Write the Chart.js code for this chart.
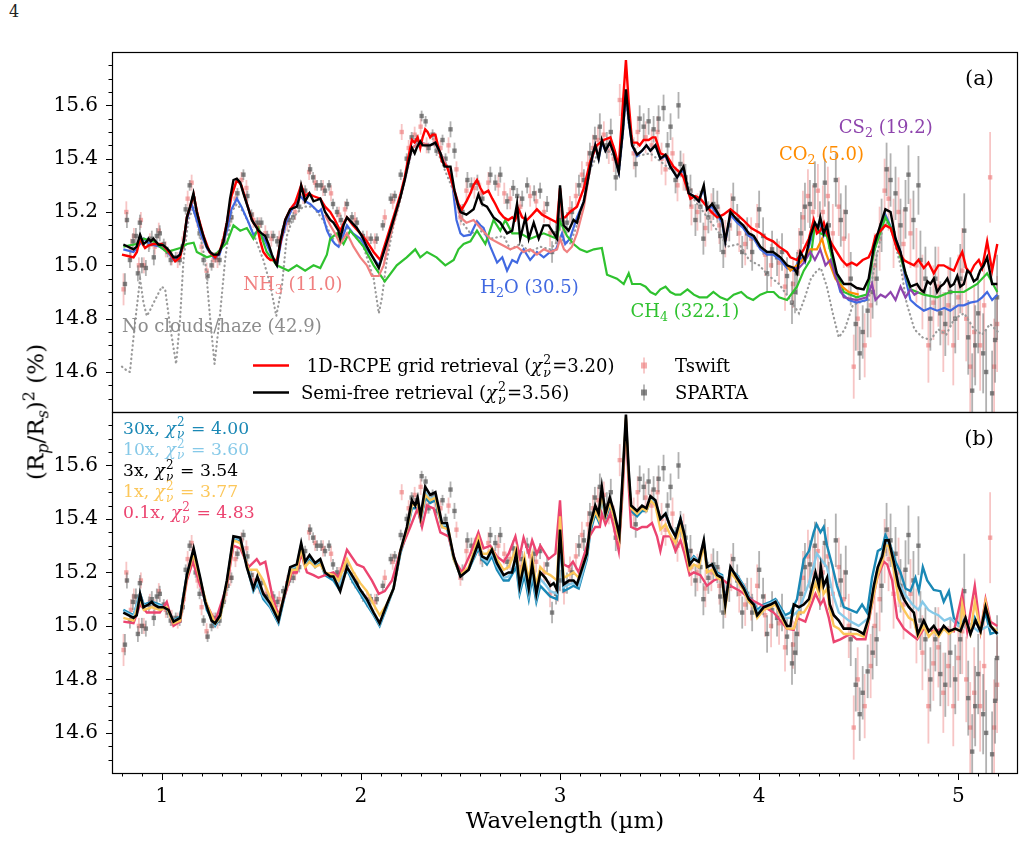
<!DOCTYPE html>
<html>
<head>
<meta charset="utf-8">
<script src="https://cdn.jsdelivr.net/npm/chart.js@4.4.1/dist/chart.umd.min.js"></script>
<style>
  body { margin: 0; background: #fff; width: 1025px; height: 843px; position: relative; overflow: hidden; font-family: 'DejaVu Serif', serif; }
  canvas { position: absolute; left: 0; top: 0; }
  #pagenum { position: absolute; left: 9px; top: 2px; font-size: 16px; color: #222; }
  #ytitle { position: absolute; left: 36px; top: 412px; transform: translate(-50%, -50%) rotate(-90deg); white-space: nowrap; font-size: 23px; color: #000; }
  #ytitle sub, #ytitle sup { font-size: 16px; }
</style>
</head>
<body>
<div id="pagenum">4</div>
<canvas id="panelA" width="1025" height="843"></canvas>
<canvas id="panelB" width="1025" height="843"></canvas>
<div id="ytitle">(R<sub><i>p</i></sub>/R<sub><i>s</i></sub>)<sup>2</sup> (%)</div>
<script>
// axis limits and tick lists
const X_MIN = 0.75, X_MAX = 5.30;
const Y_MIN = 14.45, Y_MAX = 15.80;
const xMajorTicks = [1, 2, 3, 4, 5];
const xMinorTicks = [0.8, 0.9, 1.1, 1.2, 1.3, 1.4, 1.5, 1.6, 1.7, 1.8, 1.9, 2.1, 2.2, 2.3, 2.4, 2.5, 2.6, 2.7, 2.8, 2.9,
  3.1, 3.2, 3.3, 3.4, 3.5, 3.6, 3.7, 3.8, 3.9, 4.1, 4.2, 4.3, 4.4, 4.5, 4.6, 4.7, 4.8, 4.9, 5.1, 5.2];
const yMajorTicks = [14.6, 14.8, 15.0, 15.2, 15.4, 15.6];
const yMinorTicks = [14.5, 14.55, 14.65, 14.7, 14.75, 14.85, 14.9, 14.95, 15.05, 15.1, 15.15, 15.25, 15.3, 15.35,
  15.45, 15.5, 15.55, 15.65, 15.7, 15.75];

// observations: [wavelength, depth, error]
const tswift = [
  [0.808,14.91,0.06],[0.822,15.20,0.04],[0.845,15.06,0.04],[0.86,15.11,0.03],[0.885,15.00,0.03],[0.895,15.17,0.03],
  [0.91,15.00,0.03],[0.94,15.09,0.03],[0.965,15.07,0.03],[0.985,15.13,0.03],[1.02,15.06,0.03],[1.05,15.03,0.03],
  [1.08,15.02,0.03],[1.11,15.10,0.03],[1.13,15.25,0.03],[1.15,15.31,0.03],[1.18,15.17,0.03],[1.20,15.07,0.03],
  [1.225,14.98,0.03],[1.26,15.02,0.03],[1.28,15.02,0.03],[1.32,15.12,0.03],[1.345,15.18,0.03],[1.37,15.25,0.03],
  [1.40,15.32,0.03],[1.425,15.29,0.03],[1.46,15.17,0.03],[1.49,15.15,0.03],[1.52,15.12,0.03],[1.55,15.10,0.03],
  [1.59,15.10,0.03],[1.63,15.16,0.03],[1.67,15.20,0.03],[1.71,15.26,0.03],[1.74,15.35,0.03],[1.77,15.31,0.03],
  [1.81,15.29,0.03],[1.85,15.27,0.03],[1.89,15.19,0.03],[1.92,15.21,0.03],[1.97,15.17,0.03],[2.03,15.10,0.03],
  [2.07,15.09,0.03],[2.12,15.18,0.03],[2.16,15.24,0.03],[2.205,15.50,0.03],[2.24,15.44,0.03],[2.27,15.49,0.03],
  [2.30,15.52,0.03],[2.33,15.45,0.03],[2.37,15.47,0.03],[2.40,15.44,0.03],[2.44,15.45,0.03],[2.48,15.36,0.03],
  [2.50,15.18,0.03],[2.53,15.28,0.04],[2.57,15.29,0.04],[2.60,15.27,0.04],[2.64,15.31,0.04],[2.69,15.30,0.04],
  [2.72,15.27,0.04],[2.75,15.25,0.04],[2.80,15.22,0.04],[2.85,15.26,0.04],[2.88,15.24,0.04],[2.92,15.20,0.04],
  [2.95,15.12,0.05],[2.99,15.14,0.05],[3.02,15.13,0.05],[3.05,15.21,0.05],[3.08,15.26,0.05],[3.11,15.34,0.05],
  [3.14,15.38,0.05],[3.165,15.44,0.05],[3.19,15.47,0.05],[3.22,15.49,0.05],[3.245,15.43,0.05],[3.27,15.40,0.05],
  [3.30,15.62,0.06],[3.37,15.42,0.06],[3.39,15.50,0.06],[3.43,15.48,0.06],[3.46,15.45,0.06],[3.49,15.50,0.06],
  [3.51,15.40,0.06],[3.53,15.36,0.06],[3.565,15.42,0.06],[3.59,15.30,0.06],[3.62,15.35,0.07],[3.66,15.22,0.07],
  [3.69,15.20,0.07],[3.73,15.14,0.07],[3.76,15.20,0.07],[3.80,15.15,0.07],[3.83,15.10,0.07],[3.86,15.20,0.07],
  [3.90,15.12,0.07],[3.93,15.08,0.08],[3.96,15.10,0.08],[3.99,15.15,0.08],[4.03,15.04,0.08],[4.06,15.00,0.08],
  [4.10,15.01,0.08],[4.13,14.92,0.09],[4.17,14.93,0.09],[4.20,15.05,0.09],[4.22,15.18,0.10],[4.245,15.26,0.10],
  [4.27,15.20,0.10],[4.295,15.28,0.10],[4.32,15.20,0.10],[4.345,15.26,0.11],[4.37,15.12,0.11],[4.40,15.22,0.11],
  [4.425,15.10,0.11],[4.45,15.00,0.12],[4.475,14.62,0.12],[4.495,14.80,0.12],[4.53,14.70,0.12],[4.56,14.85,0.12],
  [4.58,15.00,0.12],[4.605,15.10,0.12],[4.63,15.28,0.12],[4.65,15.25,0.12],[4.675,15.12,0.13],[4.70,15.20,0.13],
  [4.725,15.08,0.13],[4.76,15.12,0.13],[4.79,15.00,0.14],[4.82,14.90,0.14],[4.85,14.70,0.14],[4.875,14.86,0.14],
  [4.90,14.92,0.15],[4.925,14.75,0.15],[4.95,14.85,0.15],[4.975,14.70,0.15],[5.00,14.88,0.16],[5.02,14.98,0.16],
  [5.04,14.80,0.16],[5.06,14.62,0.17],[5.08,14.75,0.17],[5.11,14.70,0.17],[5.13,14.85,0.17],[5.16,15.33,0.17],
  [5.18,14.62,0.18],[5.195,14.78,0.18]
];
const sparta = [
  [0.815,14.93,0.04],[0.825,15.17,0.03],[0.84,15.02,0.03],[0.855,15.09,0.03],[0.87,15.11,0.03],[0.88,14.97,0.03],
  [0.89,15.16,0.03],[0.90,15.00,0.03],[0.92,14.99,0.03],[0.935,15.08,0.03],[0.95,15.10,0.03],[0.96,15.03,0.03],
  [0.975,15.11,0.03],[0.99,15.12,0.03],[1.01,15.08,0.02],[1.03,15.05,0.02],[1.045,15.02,0.02],[1.07,15.03,0.02],
  [1.09,15.02,0.02],[1.105,15.07,0.02],[1.12,15.21,0.02],[1.14,15.30,0.02],[1.16,15.25,0.02],[1.17,15.20,0.02],
  [1.19,15.12,0.02],[1.21,15.02,0.02],[1.23,14.96,0.02],[1.25,15.00,0.02],[1.27,15.03,0.02],[1.29,15.02,0.02],
  [1.31,15.09,0.02],[1.33,15.15,0.02],[1.35,15.18,0.02],[1.38,15.27,0.02],[1.41,15.34,0.02],[1.43,15.26,0.02],
  [1.45,15.19,0.02],[1.48,15.16,0.02],[1.50,15.16,0.02],[1.53,15.11,0.02],[1.56,15.11,0.02],[1.58,15.09,0.02],
  [1.61,15.13,0.02],[1.64,15.17,0.02],[1.66,15.18,0.02],[1.69,15.22,0.02],[1.72,15.28,0.02],[1.745,15.36,0.02],
  [1.76,15.33,0.02],[1.78,15.30,0.02],[1.80,15.30,0.02],[1.82,15.28,0.02],[1.84,15.30,0.02],[1.86,15.23,0.02],
  [1.88,15.20,0.02],[1.90,15.17,0.02],[1.93,15.23,0.02],[1.955,15.18,0.02],[1.98,15.16,0.02],[2.01,15.11,0.02],
  [2.05,15.10,0.02],[2.08,15.10,0.02],[2.11,15.15,0.02],[2.15,15.25,0.02],[2.17,15.26,0.02],[2.20,15.34,0.02],
  [2.23,15.40,0.02],[2.255,15.48,0.02],[2.28,15.47,0.02],[2.305,15.56,0.02],[2.325,15.54,0.02],[2.34,15.44,0.02],
  [2.36,15.49,0.02],[2.38,15.43,0.02],[2.41,15.47,0.02],[2.425,15.40,0.02],[2.45,15.51,0.03],[2.47,15.43,0.03],
  [2.51,15.20,0.03],[2.535,15.32,0.03],[2.555,15.30,0.03],[2.585,15.31,0.03],[2.61,15.25,0.03],[2.65,15.34,0.03],
  [2.675,15.31,0.03],[2.70,15.34,0.03],[2.735,15.24,0.03],[2.765,15.29,0.03],[2.785,15.26,0.03],[2.81,15.25,0.03],
  [2.835,15.30,0.03],[2.87,15.27,0.03],[2.90,15.28,0.03],[2.935,15.23,0.03],[2.96,15.05,0.04],[2.98,15.12,0.04],
  [3.00,15.17,0.04],[3.035,15.16,0.04],[3.06,15.20,0.04],[3.095,15.30,0.04],[3.12,15.32,0.04],[3.15,15.42,0.04],
  [3.175,15.48,0.04],[3.20,15.52,0.05],[3.235,15.45,0.05],[3.255,15.50,0.05],[3.28,15.33,0.05],[3.38,15.38,0.05],
  [3.40,15.55,0.05],[3.42,15.52,0.05],[3.445,15.54,0.05],[3.47,15.51,0.05],[3.495,15.55,0.05],[3.52,15.59,0.05],
  [3.54,15.45,0.05],[3.555,15.52,0.05],[3.58,15.32,0.05],[3.595,15.60,0.05],[3.605,15.38,0.05],[3.63,15.33,0.05],
  [3.655,15.28,0.06],[3.68,15.17,0.06],[3.705,15.22,0.06],[3.72,15.10,0.06],[3.745,15.18,0.06],[3.77,15.23,0.06],
  [3.79,15.22,0.06],[3.805,15.11,0.06],[3.82,15.05,0.06],[3.85,15.15,0.06],[3.87,15.25,0.06],[3.89,15.17,0.06],
  [3.915,15.05,0.06],[3.94,15.12,0.06],[3.965,15.05,0.07],[4.00,15.21,0.07],[4.02,15.11,0.07],[4.04,14.97,0.07],
  [4.065,15.06,0.07],[4.09,15.03,0.07],[4.115,15.05,0.07],[4.14,14.96,0.07],[4.165,14.86,0.08],[4.18,14.90,0.08],
  [4.19,14.97,0.08],[4.21,15.12,0.08],[4.23,15.22,0.09],[4.255,15.23,0.09],[4.28,15.30,0.09],[4.305,15.15,0.09],
  [4.33,15.31,0.09],[4.35,15.15,0.09],[4.385,15.32,0.10],[4.41,15.17,0.10],[4.435,15.20,0.10],[4.46,14.95,0.10],
  [4.485,14.78,0.10],[4.505,14.67,0.10],[4.52,14.75,0.10],[4.545,14.83,0.10],[4.57,14.90,0.10],[4.59,14.95,0.10],
  [4.615,15.15,0.10],[4.64,15.36,0.10],[4.66,15.32,0.10],[4.685,15.27,0.10],[4.71,15.15,0.10],[4.735,15.21,0.11],
  [4.75,15.34,0.11],[4.775,15.17,0.11],[4.80,15.30,0.11],[4.81,15.02,0.11],[4.835,14.95,0.12],[4.86,14.80,0.12],
  [4.885,14.95,0.12],[4.91,14.82,0.12],[4.935,14.78,0.12],[4.96,14.90,0.13],[4.985,14.80,0.13],[5.01,14.95,0.13],
  [5.03,15.13,0.14],[5.05,14.73,0.14],[5.07,14.53,0.14],[5.085,14.70,0.15],[5.10,14.82,0.15],[5.125,14.67,0.15],
  [5.14,14.60,0.16],[5.17,14.52,0.16],[5.185,14.72,0.16],[5.195,14.88,0.16]
];

// panel (a) models: [wavelength, depth]
const rcpeGrid = [
  [0.80,15.04],[0.83,15.035],[0.858,15.03],[0.875,15.05],[0.89,15.10],[0.903,15.08],[0.916,15.065],[0.935,15.075],
  [0.958,15.08],[0.98,15.08],[1.0,15.08],[1.025,15.06],[1.045,15.04],[1.067,15.015],[1.092,15.03],[1.11,15.09],
  [1.126,15.18],[1.143,15.22],[1.16,15.265],[1.18,15.19],[1.21,15.11],[1.24,15.05],[1.268,15.03],[1.29,15.05],
  [1.31,15.10],[1.327,15.16],[1.35,15.26],[1.377,15.32],[1.40,15.30],[1.42,15.25],[1.444,15.19],[1.46,15.16],
  [1.48,15.14],[1.495,15.09],[1.51,15.05],[1.53,15.03],[1.546,15.02],[1.578,15.02],[1.60,15.10],[1.62,15.17],
  [1.645,15.21],[1.67,15.235],[1.70,15.30],[1.72,15.26],[1.737,15.27],[1.76,15.26],[1.796,15.25],[1.82,15.22],
  [1.846,15.20],[1.87,15.17],[1.896,15.13],[1.915,15.16],[1.93,15.18],[1.96,15.15],[1.997,15.12],[2.03,15.09],
  [2.064,15.05],[2.097,15.02],[2.113,15.06],[2.13,15.10],[2.155,15.16],[2.18,15.22],[2.20,15.27],[2.22,15.33],
  [2.24,15.41],[2.256,15.47],[2.27,15.46],[2.285,15.48],[2.298,15.44],[2.31,15.48],[2.323,15.51],[2.335,15.50],
  [2.348,15.48],[2.36,15.49],[2.374,15.49],[2.39,15.44],[2.407,15.39],[2.432,15.37],[2.45,15.33],[2.47,15.28],
  [2.49,15.23],[2.507,15.21],[2.53,15.24],[2.55,15.27],[2.565,15.30],[2.583,15.32],[2.60,15.29],[2.616,15.27],
  [2.64,15.28],[2.66,15.25],[2.675,15.23],[2.695,15.20],[2.717,15.18],[2.74,15.17],[2.76,15.18],[2.775,15.17],
  [2.792,15.21],[2.81,15.18],[2.834,15.17],[2.86,15.19],[2.884,15.21],[2.91,15.19],[2.935,15.18],[2.96,15.17],
  [2.985,15.16],[3.0,15.29],[3.012,15.18],[3.026,15.18],[3.05,15.20],[3.085,15.22],[3.12,15.29],[3.152,15.39],
  [3.185,15.45],[3.22,15.47],[3.253,15.48],[3.275,15.43],[3.295,15.37],[3.316,15.61],[3.331,15.77],[3.345,15.61],
  [3.362,15.46],[3.387,15.46],[3.40,15.45],[3.42,15.47],[3.445,15.47],[3.465,15.48],[3.479,15.48],[3.504,15.42],
  [3.537,15.41],[3.57,15.37],[3.60,15.35],[3.62,15.33],[3.655,15.25],[3.68,15.26],[3.705,15.25],[3.738,15.22],
  [3.76,15.20],[3.789,15.18],[3.82,15.19],[3.856,15.21],[3.89,15.19],[3.92,15.17],[3.96,15.14],[4.006,15.12],
  [4.04,15.10],[4.07,15.09],[4.10,15.07],[4.14,15.05],[4.157,15.03],[4.19,15.02],[4.224,15.06],[4.25,15.10],
  [4.274,15.17],[4.29,15.12],[4.307,15.13],[4.325,15.16],[4.34,15.12],[4.365,15.08],[4.39,15.05],[4.415,15.02],
  [4.44,15.0],[4.465,15.01],[4.49,15.0],[4.52,15.02],[4.55,15.03],[4.568,15.06],[4.584,15.11],[4.61,15.13],
  [4.634,15.15],[4.66,15.14],[4.693,15.06],[4.727,15.02],[4.75,15.01],[4.777,15.0],[4.80,15.02],[4.827,14.99],
  [4.85,15.01],[4.877,14.97],[4.90,15.0],[4.927,15.0],[4.95,14.99],[4.978,14.98],[5.0,15.02],[5.02,15.05],
  [5.04,14.99],[5.06,14.97],[5.08,15.0],[5.103,15.02],[5.12,14.99],[5.145,15.09],[5.17,14.98],[5.196,15.08]
];
const semiFree = [
  [0.807,15.078],[0.858,15.06],[0.874,15.07],[0.891,15.115],[0.908,15.08],[0.925,15.09],[0.933,15.10],[0.945,15.09],
  [0.958,15.10],[0.983,15.078],[1.008,15.075],[1.025,15.065],[1.042,15.05],[1.059,15.03],[1.075,15.03],[1.092,15.04],
  [1.11,15.09],[1.126,15.18],[1.142,15.22],[1.159,15.27],[1.176,15.20],[1.193,15.15],[1.209,15.11],[1.226,15.07],
  [1.243,15.05],[1.26,15.04],[1.285,15.04],[1.31,15.09],[1.327,15.16],[1.343,15.25],[1.36,15.32],[1.377,15.325],
  [1.394,15.31],[1.41,15.27],[1.436,15.21],[1.452,15.17],[1.469,15.15],[1.486,15.13],[1.502,15.12],[1.519,15.11],
  [1.536,15.08],[1.553,15.04],[1.57,15.01],[1.578,15.0],[1.595,15.09],[1.62,15.17],[1.645,15.21],[1.678,15.22],
  [1.69,15.25],[1.70,15.30],[1.72,15.24],[1.742,15.27],[1.762,15.24],[1.78,15.245],[1.796,15.25],[1.82,15.20],
  [1.846,15.17],[1.862,15.16],[1.887,15.13],[1.896,15.10],[1.913,15.15],[1.93,15.18],[1.955,15.16],[1.98,15.14],
  [2.005,15.11],[2.03,15.07],[2.06,15.03],[2.09,14.99],[2.115,15.05],[2.14,15.11],[2.16,15.16],[2.18,15.21],
  [2.20,15.26],[2.22,15.32],[2.24,15.39],[2.256,15.44],[2.27,15.42],[2.28,15.44],[2.298,15.465],[2.31,15.45],
  [2.323,15.45],[2.348,15.45],[2.374,15.46],[2.40,15.42],[2.42,15.37],[2.45,15.37],[2.47,15.28],[2.49,15.22],
  [2.50,15.20],[2.53,15.19],[2.566,15.21],[2.59,15.265],[2.608,15.23],[2.633,15.22],[2.666,15.18],[2.70,15.16],
  [2.734,15.12],[2.76,15.13],[2.784,15.23],[2.80,15.10],[2.826,15.18],[2.843,15.10],[2.868,15.16],[2.893,15.10],
  [2.918,15.15],[2.943,15.15],[2.968,15.12],[2.985,15.10],[3.0,15.30],[3.018,15.15],[3.043,15.13],[3.068,15.17],
  [3.085,15.16],[3.10,15.20],[3.12,15.24],[3.135,15.30],[3.152,15.37],[3.165,15.42],[3.177,15.45],[3.194,15.40],
  [3.21,15.47],[3.228,15.43],[3.25,15.46],[3.27,15.42],[3.295,15.35],[3.316,15.51],[3.331,15.66],[3.345,15.55],
  [3.362,15.45],[3.387,15.415],[3.412,15.43],[3.434,15.45],[3.454,15.43],[3.479,15.45],[3.504,15.40],[3.53,15.415],
  [3.554,15.37],[3.588,15.33],[3.62,15.37],[3.646,15.27],[3.67,15.26],[3.697,15.24],[3.722,15.30],[3.738,15.21],
  [3.764,15.23],[3.789,15.20],[3.814,15.17],[3.83,15.09],[3.856,15.20],[3.89,15.17],[3.92,15.15],[3.948,15.12],
  [3.973,15.11],[4.006,15.07],[4.04,15.05],[4.07,15.05],[4.107,15.03],[4.14,15.0],[4.174,14.99],[4.19,14.97],
  [4.207,15.05],[4.23,15.02],[4.257,15.11],[4.28,15.16],[4.295,15.14],[4.307,15.18],[4.324,15.12],[4.34,15.15],
  [4.366,15.05],[4.39,14.97],[4.425,14.93],[4.46,14.93],[4.49,14.915],[4.525,14.91],[4.55,14.95],[4.576,15.07],
  [4.60,15.13],[4.634,15.21],[4.66,15.20],[4.685,15.10],[4.71,15.05],[4.735,14.97],[4.76,14.92],[4.793,14.93],
  [4.81,14.91],[4.827,14.90],[4.845,14.94],[4.86,14.93],[4.877,14.95],[4.894,14.90],[4.91,14.92],[4.927,14.93],
  [4.945,14.95],[4.96,14.92],[4.978,14.93],[4.995,14.96],[5.01,14.92],[5.028,14.93],[5.045,14.98],[5.06,14.97],
  [5.078,14.94],[5.095,14.95],[5.11,14.98],[5.128,15.0],[5.145,15.03],[5.17,14.93],[5.196,14.93]
];
const withoutNH3 = [
  [1.82,15.19],[1.846,15.15],[1.87,15.12],[1.896,15.08],[1.93,15.12],[1.963,15.07],[1.997,15.03],[2.03,15.0],
  [2.055,14.96],[2.09,14.96],[2.114,15.0],[2.14,15.09],[2.18,15.2],[2.22,15.32],[2.256,15.44],[2.3,15.46],
  [2.35,15.45],[2.374,15.46],[2.4,15.42],[2.44,15.36],[2.47,15.27],[2.5,15.18],[2.53,15.16],[2.566,15.17],
  [2.6,15.14],[2.65,15.10],[2.7,15.08],[2.75,15.06],[2.784,15.07],[2.817,15.05],[2.85,15.06],[2.884,15.04],
  [2.918,15.06],[2.951,15.05],[2.985,15.06],[3.0,15.10],[3.02,15.06],[3.035,15.05],[3.06,15.07],[3.085,15.12],
  [3.12,15.22],[3.15,15.36]
];
const withoutH2O = [
  [0.807,15.06],[0.858,15.05],[0.89,15.08],[0.91,15.10],[0.94,15.08],[0.99,15.07],[1.03,15.05],[1.06,15.02],
  [1.09,15.04],[1.11,15.09],[1.126,15.17],[1.15,15.23],[1.175,15.17],[1.20,15.11],[1.23,15.06],[1.26,15.03],
  [1.29,15.04],[1.327,15.13],[1.35,15.21],[1.377,15.25],[1.40,15.22],[1.436,15.16],[1.46,15.115],[1.486,15.13],
  [1.52,15.09],[1.55,15.04],[1.578,15.0],[1.60,15.09],[1.628,15.17],[1.66,15.22],[1.695,15.26],[1.72,15.24],
  [1.745,15.23],[1.787,15.20],[1.80,15.21],[1.83,15.13],[1.85,15.10],[1.87,15.08],[1.888,15.07],[1.91,15.11],
  [1.93,15.15],[1.96,15.12],[1.997,15.10],[2.04,15.05],[2.09,15.0],[2.115,15.05],[2.14,15.11],[2.18,15.21],
  [2.22,15.32],[2.256,15.44],[2.298,15.46],[2.348,15.45],[2.374,15.46],[2.40,15.42],[2.44,15.36],[2.46,15.30],
  [2.48,15.17],[2.50,15.12],[2.516,15.11],[2.55,15.115],[2.583,15.165],[2.60,15.15],[2.616,15.14],[2.65,15.07],
  [2.684,15.01],[2.71,15.03],[2.734,14.98],[2.76,15.02],[2.784,15.01],[2.80,15.04],[2.817,15.06],[2.85,15.02],
  [2.884,15.05],[2.918,15.03],[2.951,15.05],[2.98,15.06],[3.0,15.10],[3.01,15.12],[3.026,15.08],[3.05,15.10],
  [3.085,15.18],[3.12,15.24],[3.152,15.37],[3.177,15.45],[3.194,15.40],[3.21,15.46],[3.228,15.43],[3.25,15.46],
  [3.27,15.42],[3.295,15.35],[3.316,15.50],[3.331,15.65],[3.345,15.54],[3.362,15.45],[3.387,15.41],[3.412,15.43],
  [3.434,15.45],[3.454,15.43],[3.479,15.45],[3.504,15.40],[3.53,15.41],[3.554,15.37],[3.588,15.33],[3.62,15.36],
  [3.646,15.27],[3.67,15.26],[3.697,15.24],[3.722,15.29],[3.738,15.21],[3.764,15.22],[3.789,15.19],[3.814,15.16],
  [3.83,15.09],[3.856,15.19],[3.89,15.16],[3.92,15.14],[3.948,15.11],[3.973,15.10],[4.006,15.06],[4.04,15.04],
  [4.07,15.04],[4.107,15.02],[4.14,14.99],[4.174,14.98],[4.207,15.03],[4.23,15.01],[4.257,15.09],[4.28,15.14],
  [4.307,15.16],[4.324,15.11],[4.34,15.13],[4.366,15.03],[4.39,14.95],[4.408,14.90],[4.45,14.87],[4.49,14.86],
  [4.54,14.87],[4.567,15.02],[4.60,15.12],[4.634,15.19],[4.676,15.12],[4.71,15.05],[4.735,14.95],[4.76,14.87],
  [4.79,14.85],[4.827,14.83],[4.86,14.84],[4.894,14.83],[4.93,14.84],[4.96,14.83],[5.0,14.85],[5.028,14.85],
  [5.06,14.86],[5.095,14.865],[5.12,14.88],[5.145,14.90],[5.17,14.87],[5.196,14.89]
];
const withoutCH4 = [
  [0.807,15.07],[0.874,15.08],[0.91,15.10],[0.958,15.09],[1.025,15.05],[1.092,15.065],[1.126,15.08],[1.16,15.085],
  [1.176,15.05],[1.226,15.03],[1.268,15.04],[1.327,15.085],[1.36,15.15],[1.394,15.13],[1.427,15.14],[1.46,15.10],
  [1.486,15.14],[1.527,15.05],[1.578,15.0],[1.636,14.98],[1.678,15.0],[1.72,14.98],[1.762,15.0],[1.796,14.99],
  [1.829,15.04],[1.846,15.10],[1.88,15.12],[1.913,15.08],[1.946,15.13],[2.013,15.07],[2.064,15.0],[2.12,14.94],
  [2.18,15.0],[2.23,15.03],[2.273,15.06],[2.298,15.03],[2.332,15.05],[2.38,15.03],[2.424,15.0],[2.466,15.02],
  [2.49,15.06],[2.516,15.08],[2.55,15.09],[2.583,15.13],[2.625,15.08],[2.666,15.17],[2.7,15.13],[2.725,15.17],
  [2.76,15.12],[2.80,15.12],[2.85,15.10],[2.918,15.12],[2.985,15.10],[3.0,15.165],[3.035,15.11],[3.068,15.08],
  [3.1,15.06],[3.135,15.05],[3.17,15.06],[3.21,15.065],[3.236,14.965],[3.286,14.95],[3.32,14.93],[3.345,14.97],
  [3.362,14.93],[3.404,14.93],[3.43,14.92],[3.454,14.90],[3.48,14.89],[3.504,14.91],[3.53,14.92],[3.554,14.90],
  [3.58,14.89],[3.605,14.89],[3.64,14.91],[3.672,14.89],[3.70,14.88],[3.738,14.88],[3.77,14.90],[3.805,14.88],
  [3.84,14.87],[3.872,14.89],[3.91,14.90],[3.94,14.88],[3.97,14.87],[4.006,14.89],[4.04,14.90],[4.073,14.90],
  [4.10,14.88],[4.14,14.87],[4.19,14.92],[4.224,14.98],[4.257,15.02],[4.28,15.15],[4.307,15.12],[4.34,15.11],
  [4.375,15.0],[4.425,14.90],[4.49,14.88],[4.54,14.89],[4.576,15.05],[4.634,15.18],[4.676,15.12],[4.71,15.03],
  [4.76,14.91],[4.827,14.89],[4.894,14.88],[4.96,14.90],[5.028,14.90],[5.095,14.93],[5.145,14.97],[5.196,14.90]
];
const withoutCO2 = [
  [4.14,15.0],[4.157,14.98],[4.207,15.01],[4.257,15.06],[4.29,15.06],[4.316,15.10],[4.333,15.05],[4.358,15.0],
  [4.383,14.95],[4.417,14.92],[4.45,14.90],[4.50,14.89]
];
const withoutCS2 = [
  [4.17,14.99],[4.20,14.99],[4.224,15.01],[4.257,15.05],[4.28,15.02],[4.307,15.06],[4.333,15.0],[4.358,15.02],
  [4.383,14.96],[4.425,14.88],[4.49,14.87],[4.54,14.88],[4.567,14.93],[4.584,14.87],[4.61,14.89],[4.634,14.88],
  [4.66,14.90],[4.685,14.87],[4.71,14.92],[4.735,14.88],[4.76,14.91],[4.78,14.89],[4.80,14.90]
];
const noCloudsHaze = [
  [0.80,14.62],[0.816,14.61],[0.84,14.60],[0.865,14.78],[0.891,14.95],[0.908,14.86],[0.925,14.81],[0.94,14.83],
  [0.966,14.87],[1.0,14.92],[1.017,14.91],[1.042,14.77],[1.072,14.63],[1.092,14.80],[1.109,15.02],[1.134,15.17],
  [1.16,15.22],[1.193,15.11],[1.218,15.02],[1.243,14.80],[1.265,14.63],[1.293,14.82],[1.318,15.02],[1.35,15.20],
  [1.377,15.23],[1.41,15.20],[1.46,15.12],[1.51,15.02],[1.544,14.93],[1.575,14.81],[1.603,14.92],[1.628,15.11],
  [1.66,15.18],[1.71,15.22],[1.76,15.22],[1.81,15.17],[1.86,15.10],[1.93,15.14],[1.97,15.11],[2.013,15.07],
  [2.064,14.95],[2.09,14.82],[2.106,14.88],[2.13,15.02],[2.164,15.15],[2.20,15.25],[2.256,15.43],[2.30,15.45],
  [2.374,15.45],[2.42,15.36],[2.47,15.27],[2.50,15.17],[2.55,15.12],[2.60,15.13],[2.65,15.10],[2.717,15.11],
  [2.75,15.06],[2.80,15.08],[2.85,15.05],[2.90,15.07],[2.95,15.06],[3.0,15.10],[3.05,15.08],[3.10,15.18],
  [3.152,15.36],[3.21,15.45],[3.27,15.41],[3.295,15.34],[3.316,15.50],[3.331,15.64],[3.345,15.53],[3.387,15.41],
  [3.454,15.42],[3.504,15.39],[3.554,15.36],[3.62,15.35],[3.67,15.25],[3.75,15.17],[3.80,15.12],[3.84,15.07],
  [3.90,15.08],[3.95,15.02],[4.0,15.0],[4.05,14.96],[4.10,14.93],[4.157,14.87],[4.20,14.82],[4.23,14.88],
  [4.26,14.95],[4.29,14.98],[4.31,14.99],[4.34,14.92],[4.37,14.82],[4.40,14.73],[4.43,14.76],[4.47,14.85],
  [4.50,14.86],[4.55,14.87],[4.58,15.0],[4.63,15.17],[4.67,15.12],[4.71,15.0],[4.74,14.86],[4.78,14.76],
  [4.82,14.73],[4.86,14.72],[4.90,14.76],[4.94,14.74],[4.98,14.80],[5.03,14.82],[5.08,14.76],[5.12,14.74],
  [5.16,14.78],[5.20,14.75]
];

// panel (b) models
const fsed30 = [
  [0.807,15.06],[0.858,15.04],[0.891,15.12],[0.91,15.08],[0.95,15.09],[0.99,15.08],[1.025,15.065],[1.059,15.02],
  [1.092,15.035],[1.126,15.19],[1.16,15.28],[1.193,15.17],[1.226,15.06],[1.268,15.0],[1.293,15.03],[1.327,15.16],
  [1.36,15.33],[1.394,15.32],[1.436,15.2],[1.46,15.13],[1.48,15.16],[1.51,15.10],[1.544,15.07],[1.586,15.01],
  [1.62,15.12],[1.645,15.21],[1.678,15.22],[1.70,15.30],[1.72,15.23],[1.742,15.25],[1.77,15.22],[1.796,15.24],
  [1.82,15.19],[1.862,15.17],[1.888,15.14],[1.93,15.21],[1.963,15.16],[1.997,15.12],[2.03,15.08],[2.064,15.04],
  [2.094,15.0],[2.13,15.07],[2.164,15.14],[2.198,15.27],[2.231,15.35],[2.256,15.44],[2.285,15.44],[2.30,15.39],
  [2.323,15.48],[2.348,15.46],[2.374,15.47],[2.407,15.37],[2.432,15.37],[2.466,15.25],[2.50,15.19],[2.541,15.21],
  [2.59,15.29],[2.608,15.25],[2.633,15.23],[2.658,15.26],[2.683,15.21],[2.717,15.17],[2.742,15.17],[2.78,15.22],
  [2.797,15.12],[2.821,15.19],[2.843,15.10],[2.86,15.18],[2.881,15.09],[2.901,15.15],[2.926,15.13],[2.951,15.11],
  [2.985,15.10],[3.0,15.33],[3.018,15.13],[3.044,15.14],[3.068,15.15],[3.094,15.14],[3.135,15.25],[3.152,15.35],
  [3.177,15.42],[3.194,15.39],[3.21,15.49],[3.228,15.40],[3.25,15.45],[3.27,15.41],[3.298,15.33],[3.316,15.56],
  [3.331,15.76],[3.345,15.56],[3.357,15.43],[3.387,15.41],[3.412,15.43],[3.434,15.43],[3.454,15.47],[3.479,15.46],
  [3.504,15.40],[3.53,15.42],[3.554,15.37],[3.58,15.34],[3.605,15.40],[3.625,15.34],[3.651,15.24],[3.672,15.26],
  [3.697,15.24],[3.722,15.31],[3.738,15.22],[3.764,15.23],[3.789,15.20],[3.814,15.19],[3.83,15.09],[3.856,15.21],
  [3.889,15.19],[3.923,15.15],[3.948,15.11],[3.973,15.09],[3.99,15.06],[4.023,15.08],[4.057,15.09],[4.082,15.10],
  [4.107,15.07],[4.13,15.04],[4.157,15.05],[4.19,15.10],[4.224,15.25],[4.25,15.28],[4.274,15.35],[4.288,15.38],
  [4.308,15.35],[4.324,15.37],[4.341,15.30],[4.366,15.23],[4.391,15.15],[4.425,15.07],[4.458,15.06],[4.49,15.05],
  [4.517,15.08],[4.542,15.05],[4.567,15.18],[4.596,15.28],[4.618,15.29],[4.634,15.34],[4.66,15.30],[4.685,15.24],
  [4.71,15.20],[4.735,15.14],[4.76,15.13],[4.785,15.18],[4.802,15.13],[4.822,15.22],[4.844,15.17],[4.877,15.135],
  [4.91,15.13],[4.927,15.09],[4.953,15.13],[4.978,15.03],[5.011,15.0],[5.036,15.03],[5.061,14.97],[5.083,15.03],
  [5.112,14.98],[5.137,15.05],[5.162,14.97],[5.196,14.98]
];
const fsed10 = [
  [0.807,15.055],[0.858,15.035],[0.891,15.12],[0.91,15.075],[0.95,15.085],[0.99,15.075],[1.025,15.065],[1.059,15.02],
  [1.092,15.03],[1.126,15.19],[1.16,15.285],[1.193,15.175],[1.226,15.07],[1.268,15.005],[1.293,15.035],[1.327,15.165],
  [1.36,15.33],[1.394,15.325],[1.436,15.21],[1.46,15.135],[1.48,15.17],[1.51,15.11],[1.544,15.075],[1.586,15.015],
  [1.62,15.125],[1.645,15.215],[1.678,15.225],[1.70,15.305],[1.72,15.235],[1.742,15.26],[1.77,15.23],[1.796,15.245],
  [1.82,15.195],[1.862,15.18],[1.888,15.15],[1.93,15.215],[1.963,15.17],[1.997,15.13],[2.03,15.09],[2.064,15.045],
  [2.094,15.005],[2.13,15.075],[2.164,15.14],[2.198,15.275],[2.231,15.36],[2.256,15.455],[2.285,15.46],[2.30,15.40],
  [2.323,15.50],[2.348,15.475],[2.374,15.485],[2.407,15.38],[2.432,15.38],[2.466,15.255],[2.50,15.185],[2.541,15.21],
  [2.59,15.30],[2.608,15.255],[2.633,15.24],[2.658,15.275],[2.683,15.225],[2.717,15.18],[2.742,15.185],[2.78,15.245],
  [2.797,15.135],[2.821,15.215],[2.843,15.12],[2.86,15.205],[2.881,15.105],[2.901,15.175],[2.926,15.155],[2.951,15.13],
  [2.985,15.12],[3.0,15.35],[3.018,15.145],[3.044,15.155],[3.068,15.16],[3.094,15.15],[3.135,15.26],[3.152,15.365],
  [3.177,15.435],[3.194,15.405],[3.21,15.505],[3.228,15.41],[3.25,15.465],[3.27,15.42],[3.298,15.335],[3.316,15.57],
  [3.331,15.775],[3.345,15.57],[3.357,15.44],[3.387,15.42],[3.412,15.44],[3.434,15.435],[3.454,15.475],[3.479,15.465],
  [3.504,15.40],[3.53,15.42],[3.554,15.37],[3.58,15.335],[3.605,15.40],[3.625,15.34],[3.651,15.235],[3.672,15.255],
  [3.697,15.24],[3.722,15.315],[3.738,15.22],[3.764,15.23],[3.789,15.195],[3.814,15.185],[3.83,15.085],[3.856,15.215],
  [3.889,15.185],[3.923,15.145],[3.948,15.105],[3.973,15.085],[3.99,15.05],[4.023,15.075],[4.057,15.085],[4.082,15.095],
  [4.107,15.06],[4.13,15.03],[4.157,15.03],[4.20,15.06],[4.25,15.16],[4.29,15.27],[4.32,15.24],[4.34,15.22],
  [4.37,15.12],[4.40,15.05],[4.45,15.02],[4.50,15.0],[4.55,15.03],[4.59,15.20],[4.635,15.32],[4.66,15.30],
  [4.70,15.16],[4.73,15.12],[4.77,15.08],[4.80,15.06],[4.82,15.09],[4.85,15.06],[4.87,15.05],[4.90,15.04],
  [4.93,15.02],[4.96,15.03],[5.0,15.0],[5.04,15.02],[5.10,14.98],[5.15,15.0],[5.20,14.97]
];
const fsed3 = [
  [0.807,15.05],[0.832,15.04],[0.858,15.03],[0.874,15.04],[0.891,15.12],[0.908,15.07],[0.933,15.08],[0.95,15.09],
  [0.96,15.08],[0.983,15.07],[1.008,15.07],[1.034,15.06],[1.059,15.016],[1.092,15.03],[1.126,15.19],[1.16,15.29],
  [1.193,15.18],[1.218,15.09],[1.25,15.02],[1.268,15.01],[1.293,15.04],[1.327,15.17],[1.36,15.335],[1.394,15.33],
  [1.427,15.22],[1.46,15.14],[1.48,15.185],[1.51,15.12],[1.544,15.085],[1.586,15.02],[1.62,15.13],[1.645,15.22],
  [1.678,15.23],[1.70,15.31],[1.72,15.24],[1.742,15.265],[1.77,15.235],[1.796,15.25],[1.82,15.20],[1.846,15.185],
  [1.862,15.185],[1.896,15.13],[1.93,15.22],[1.963,15.18],[1.997,15.135],[2.03,15.10],[2.064,15.05],[2.094,15.01],
  [2.13,15.08],[2.164,15.14],[2.198,15.28],[2.231,15.37],[2.256,15.47],[2.273,15.45],[2.285,15.48],[2.30,15.41],
  [2.323,15.52],[2.348,15.49],[2.374,15.50],[2.407,15.385],[2.432,15.385],[2.466,15.26],[2.50,15.185],[2.541,15.21],
  [2.59,15.31],[2.608,15.26],[2.633,15.25],[2.658,15.285],[2.683,15.235],[2.717,15.19],[2.742,15.20],[2.759,15.20],
  [2.78,15.27],[2.797,15.15],[2.821,15.235],[2.843,15.14],[2.86,15.23],[2.881,15.12],[2.901,15.20],[2.926,15.18],
  [2.951,15.15],[2.968,15.16],[2.985,15.135],[3.0,15.36],[3.018,15.155],[3.044,15.17],[3.068,15.17],[3.085,15.155],
  [3.135,15.27],[3.152,15.38],[3.177,15.45],[3.194,15.42],[3.21,15.52],[3.228,15.42],[3.25,15.48],[3.27,15.43],
  [3.298,15.34],[3.316,15.58],[3.331,15.79],[3.345,15.58],[3.357,15.45],[3.387,15.43],[3.412,15.45],[3.434,15.44],
  [3.454,15.485],[3.479,15.47],[3.504,15.40],[3.53,15.42],[3.554,15.37],[3.58,15.335],[3.605,15.40],[3.625,15.34],
  [3.651,15.23],[3.672,15.25],[3.697,15.24],[3.722,15.32],[3.738,15.22],[3.764,15.23],[3.789,15.19],[3.814,15.18],
  [3.83,15.08],[3.856,15.22],[3.889,15.18],[3.923,15.14],[3.948,15.10],[3.973,15.08],[3.99,15.04],[4.023,15.07],
  [4.057,15.08],[4.082,15.09],[4.107,15.05],[4.14,15.0],[4.157,15.0],[4.174,15.08],[4.20,15.07],[4.224,15.08],
  [4.25,15.10],[4.266,15.15],[4.283,15.20],[4.30,15.15],[4.31,15.22],[4.324,15.15],[4.341,15.18],[4.355,15.08],
  [4.375,15.04],[4.40,15.02],[4.425,14.99],[4.458,14.99],[4.49,14.985],[4.525,14.97],[4.55,15.03],[4.576,15.15],
  [4.596,15.22],[4.618,15.26],[4.634,15.32],[4.651,15.32],[4.676,15.24],[4.70,15.15],[4.727,15.10],[4.752,15.07],
  [4.777,15.05],[4.797,14.97],[4.827,15.02],[4.852,14.98],[4.877,15.0],[4.902,14.97],[4.927,15.0],[4.953,14.98],
  [4.986,14.99],[5.011,14.98],[5.036,15.03],[5.061,14.97],[5.087,15.02],[5.112,14.98],[5.137,15.07],[5.162,15.0],
  [5.196,14.97]
];
const fsed1 = [
  [0.807,15.03],[0.858,15.02],[0.891,15.10],[0.91,15.06],[0.95,15.07],[0.99,15.06],[1.025,15.07],[1.059,15.01],
  [1.092,15.02],[1.126,15.18],[1.158,15.27],[1.193,15.17],[1.226,15.08],[1.268,15.01],[1.293,15.03],[1.327,15.16],
  [1.36,15.32],[1.394,15.31],[1.436,15.21],[1.477,15.21],[1.51,15.17],[1.553,15.09],[1.586,15.03],[1.62,15.13],
  [1.653,15.21],[1.678,15.21],[1.70,15.29],[1.72,15.22],[1.742,15.24],[1.77,15.22],[1.796,15.23],[1.82,15.20],
  [1.862,15.19],[1.888,15.17],[1.93,15.25],[1.963,15.20],[1.997,15.16],[2.03,15.13],[2.064,15.08],[2.094,15.04],
  [2.13,15.08],[2.164,15.14],[2.198,15.28],[2.231,15.36],[2.256,15.45],[2.285,15.46],[2.30,15.40],[2.323,15.49],
  [2.348,15.47],[2.374,15.48],[2.407,15.37],[2.44,15.36],[2.466,15.25],[2.50,15.19],[2.541,15.22],[2.59,15.33],
  [2.608,15.27],[2.633,15.27],[2.658,15.29],[2.683,15.25],[2.717,15.21],[2.742,15.22],[2.78,15.29],[2.797,15.18],
  [2.821,15.26],[2.843,15.17],[2.86,15.26],[2.881,15.15],[2.901,15.22],[2.926,15.20],[2.951,15.19],[2.985,15.17],
  [3.0,15.41],[3.018,15.18],[3.044,15.19],[3.068,15.20],[3.094,15.18],[3.135,15.27],[3.152,15.37],[3.177,15.43],
  [3.194,15.40],[3.21,15.50],[3.228,15.41],[3.25,15.46],[3.27,15.41],[3.298,15.32],[3.316,15.56],[3.331,15.78],
  [3.345,15.56],[3.357,15.44],[3.387,15.42],[3.412,15.44],[3.434,15.43],[3.454,15.47],[3.479,15.45],[3.504,15.36],
  [3.53,15.38],[3.554,15.34],[3.58,15.31],[3.605,15.37],[3.625,15.31],[3.651,15.21],[3.672,15.23],[3.697,15.22],
  [3.722,15.30],[3.738,15.20],[3.764,15.21],[3.789,15.18],[3.814,15.17],[3.83,15.07],[3.856,15.20],[3.889,15.17],
  [3.923,15.13],[3.948,15.09],[3.973,15.07],[3.99,15.03],[4.023,15.06],[4.057,15.07],[4.082,15.08],[4.107,15.04],
  [4.14,14.99],[4.174,14.99],[4.20,15.05],[4.224,15.05],[4.25,15.08],[4.266,15.12],[4.283,15.16],[4.30,15.12],
  [4.31,15.17],[4.324,15.12],[4.341,15.14],[4.355,15.06],[4.375,15.0],[4.40,14.99],[4.425,14.97],[4.458,14.97],
  [4.49,14.97],[4.525,14.96],[4.55,15.02],[4.576,15.12],[4.596,15.19],[4.618,15.24],[4.634,15.30],[4.651,15.30],
  [4.676,15.21],[4.70,15.10],[4.727,15.06],[4.752,15.03],[4.777,15.02],[4.797,14.96],[4.827,15.0],[4.852,14.96],
  [4.877,14.98],[4.902,14.96],[4.927,14.99],[4.953,14.97],[4.986,14.99],[5.011,14.98],[5.02,15.08],[5.036,15.02],
  [5.061,14.97],[5.083,15.09],[5.112,14.98],[5.137,15.09],[5.162,15.0],[5.196,14.98]
];
const fsed01 = [
  [0.807,15.016],[0.858,15.01],[0.891,15.08],[0.925,15.05],[0.99,15.05],[1.025,15.09],[1.059,15.0],[1.092,15.016],
  [1.126,15.17],[1.156,15.24],[1.193,15.15],[1.226,15.08],[1.268,15.016],[1.327,15.15],[1.36,15.30],[1.394,15.29],
  [1.436,15.22],[1.477,15.25],[1.494,15.23],[1.52,15.24],[1.553,15.12],[1.586,15.04],[1.62,15.12],[1.653,15.20],
  [1.678,15.20],[1.70,15.27],[1.729,15.20],[1.762,15.19],[1.787,15.18],[1.82,15.19],[1.862,15.20],[1.888,15.18],
  [1.93,15.285],[1.98,15.23],[2.013,15.22],[2.055,15.17],[2.09,15.12],[2.12,15.13],[2.156,15.17],[2.198,15.28],
  [2.248,15.37],[2.285,15.44],[2.307,15.37],[2.332,15.45],[2.365,15.44],[2.399,15.35],[2.44,15.335],[2.474,15.24],
  [2.508,15.20],[2.55,15.27],[2.59,15.35],[2.616,15.29],[2.65,15.30],[2.683,15.26],[2.717,15.24],[2.742,15.27],
  [2.776,15.335],[2.797,15.26],[2.817,15.33],[2.843,15.27],[2.86,15.32],[2.884,15.27],[2.901,15.30],[2.943,15.25],
  [2.977,15.27],[3.0,15.47],[3.018,15.23],[3.044,15.22],[3.065,15.24],[3.094,15.20],[3.127,15.28],[3.152,15.34],
  [3.177,15.37],[3.20,15.37],[3.21,15.42],[3.228,15.38],[3.253,15.42],[3.27,15.37],[3.295,15.28],[3.316,15.52],
  [3.331,15.77],[3.345,15.52],[3.357,15.37],[3.387,15.36],[3.412,15.37],[3.437,15.37],[3.462,15.385],[3.487,15.335],
  [3.504,15.28],[3.52,15.335],[3.554,15.335],[3.58,15.28],[3.605,15.32],[3.625,15.27],[3.651,15.19],[3.672,15.20],
  [3.705,15.19],[3.738,15.15],[3.772,15.17],[3.806,15.18],[3.856,15.15],[3.906,15.13],[3.956,15.10],[4.006,15.08],
  [4.073,15.05],[4.14,14.99],[4.174,14.985],[4.19,15.03],[4.232,15.016],[4.257,15.07],[4.283,15.12],[4.308,15.08],
  [4.324,15.10],[4.35,15.03],[4.375,14.94],[4.408,14.95],[4.458,14.97],[4.49,14.95],[4.534,14.95],[4.559,15.05],
  [4.593,15.18],[4.626,15.24],[4.643,15.23],[4.668,15.17],[4.693,15.03],[4.727,14.99],[4.76,14.97],[4.794,14.95],
  [4.827,14.99],[4.877,14.98],[4.927,14.99],[4.978,14.98],[5.02,15.12],[5.045,14.98],[5.083,15.15],[5.112,14.98],
  [5.137,15.10],[5.162,15.016],[5.196,15.0]
];

const FAM = "'DejaVu Serif', serif";
const C_RED = '#ff0000', C_NH3 = '#f08080', C_H2O = '#4169e1', C_CH4 = '#2fc22f', C_CO2 = '#ff8c00',
      C_CS2 = '#8e44ad', C_NOCLOUD = '#9a9a9a';
const C_30 = '#1a88b5', C_10 = '#86c9e8', C_1 = '#fcc75a', C_01 = '#ec4470';
const TS_FILL = 'rgba(236,120,120,0.6)', TS_ERR = 'rgba(240,140,140,0.5)';
const SP_FILL = 'rgba(85,85,85,0.7)', SP_ERR = 'rgba(100,100,100,0.5)';

const pts = pairs => pairs.map(([x, y]) => ({x, y}));

function lineSet(pairs, color, width, order, dash) {
  return {
    type: 'line', data: pts(pairs), borderColor: color, borderWidth: width, pointRadius: 0,
    fill: false, tension: 0, order: order, borderDash: dash || [], borderCapStyle: dash ? 'round' : 'butt'
  };
}
function obsSet(rows, fill, errColor, order) {
  return {
    type: 'scatter', data: pts(rows.map(r => [r[0], r[1]])), errors: rows.map(r => r[2]),
    errorColor: errColor, pointStyle: 'rect', pointRadius: 3.1, backgroundColor: fill,
    borderWidth: 0, order: order
  };
}

function setFont(ctx, size, italic) { ctx.font = (italic ? 'italic ' : '') + size + 'px ' + FAM; }

// rich text: parts = [text, kind]; kind: n, i, sub, sup, ss ([sup, sub] stacked)
function drawRich(ctx, parts, x, y, size, color, align) {
  const small = size * 0.7;
  const widths = parts.map(([t, k]) => {
    if (k === 'ss') {
      setFont(ctx, small, false); const a = ctx.measureText(t[0]).width;
      setFont(ctx, small, true); const b = ctx.measureText(t[1]).width;
      return Math.max(a, b) + 2;
    }
    setFont(ctx, (k === 'sub' || k === 'sup') ? small : size, k === 'i');
    return ctx.measureText(t).width;
  });
  const total = widths.reduce((s, w) => s + w, 0);
  let cx = align === 'right' ? x - total : (align === 'center' ? x - total / 2 : x);
  const base = y + size * 0.36;
  ctx.save();
  ctx.fillStyle = color; ctx.textAlign = 'left'; ctx.textBaseline = 'alphabetic';
  parts.forEach(([t, k], i) => {
    if (k === 'ss') {
      setFont(ctx, small, false); ctx.fillText(t[0], cx + 1, base - size * 0.42);
      setFont(ctx, small, true); ctx.fillText(t[1], cx + 1, base + size * 0.26);
    } else if (k === 'sub') {
      setFont(ctx, small, false); ctx.fillText(t, cx, base + size * 0.22);
    } else if (k === 'sup') {
      setFont(ctx, small, false); ctx.fillText(t, cx, base - size * 0.42);
    } else {
      setFont(ctx, size, k === 'i'); ctx.fillText(t, cx, base);
    }
    cx += widths[i];
  });
  ctx.restore();
}

const errorBars = {
  id: 'errorBars',
  beforeDatasetDraw(chart, args) {
    const ds = chart.data.datasets[args.index];
    if (!ds.errors) return;
    const {ctx, chartArea: a, scales: {x, y}} = chart;
    ctx.save();
    ctx.beginPath(); ctx.rect(a.left, a.top, a.right - a.left, a.bottom - a.top); ctx.clip();
    ctx.strokeStyle = ds.errorColor; ctx.lineWidth = 1.8;
    ds.data.forEach((p, i) => {
      const px = x.getPixelForValue(p.x);
      ctx.beginPath();
      ctx.moveTo(px, y.getPixelForValue(p.y - ds.errors[i]));
      ctx.lineTo(px, y.getPixelForValue(p.y + ds.errors[i]));
      ctx.stroke();
    });
    ctx.restore();
  }
};

const frameTicks = {
  id: 'frameTicks',
  afterDraw(chart, args, opts) {
    const {ctx, chartArea: a, scales: {x, y}} = chart;
    ctx.save();
    ctx.strokeStyle = '#000'; ctx.lineWidth = 1.2;
    ctx.strokeRect(a.left + 0.5, a.top + 0.5, a.right - a.left - 1, a.bottom - a.top);
    ctx.lineWidth = 1;
    const tick = (x1, y1, x2, y2) => { ctx.beginPath(); ctx.moveTo(x1, y1); ctx.lineTo(x2, y2); ctx.stroke(); };
    yMajorTicks.forEach(v => { const py = Math.round(y.getPixelForValue(v)) + 0.5; tick(a.left - 6, py, a.left, py); });
    yMinorTicks.forEach(v => { const py = Math.round(y.getPixelForValue(v)) + 0.5; tick(a.left - 3.5, py, a.left, py); });
    if (opts.xTicks) {
      xMajorTicks.forEach(v => { const px = Math.round(x.getPixelForValue(v)) + 0.5; tick(px, a.bottom, px, a.bottom + 7); });
      xMinorTicks.forEach(v => { const px = Math.round(x.getPixelForValue(v)) + 0.5; tick(px, a.bottom, px, a.bottom + 3.5); });
    }
    ctx.restore();
  }
};

const chi = (val) => [['χ', 'i'], [['2', 'ν'], 'ss'], [val, 'n']];

const moleculeLabels = [
  {parts: [['NH', 'n'], ['3', 'sub'], [' (11.0)', 'n']], x: 1.409, y: 14.931, color: C_NH3},
  {parts: [['No clouds/haze (42.9)', 'n']], x: 0.80, y: 14.774, color: '#8c8c8c'},
  {parts: [['H', 'n'], ['2', 'sub'], ['O (30.5)', 'n']], x: 2.60, y: 14.92, color: C_H2O},
  {parts: [['CH', 'n'], ['4', 'sub'], [' (322.1)', 'n']], x: 3.354, y: 14.83, color: C_CH4},
  {parts: [['CO', 'n'], ['2', 'sub'], [' (5.0)', 'n']], x: 4.10, y: 15.42, color: C_CO2},
  {parts: [['CS', 'n'], ['2', 'sub'], [' (19.2)', 'n']], x: 4.40, y: 15.52, color: C_CS2}
];

const panelAText = {
  id: 'panelAText',
  afterDatasetsDraw(chart) {
    const {ctx, chartArea: a, scales: {x, y}} = chart;
    moleculeLabels.forEach(l => drawRich(ctx, l.parts, x.getPixelForValue(l.x), y.getPixelForValue(l.y), 18, l.color, 'left'));
    drawRich(ctx, [['(a)', 'n']], a.right - 24, a.top + 25, 21, '#000', 'right');
    // legend
    ctx.save();
    const rows = [
      {color: C_RED, parts: [[' 1D-RCPE grid retrieval (', 'n']].concat(chi('=3.20)')), dy: 313.5},
      {color: '#000', parts: [['Semi-free retrieval (', 'n']].concat(chi('=3.56)')), dy: 340.5}
    ];
    rows.forEach(r => {
      ctx.strokeStyle = r.color; ctx.lineWidth = 2.4;
      ctx.beginPath(); ctx.moveTo(a.left + 141, a.top + r.dy); ctx.lineTo(a.left + 177, a.top + r.dy); ctx.stroke();
      drawRich(ctx, r.parts, a.left + 189, a.top + r.dy, 18, '#000', 'left');
    });
    const marks = [
      {fill: TS_FILL, err: TS_ERR, text: 'Tswift', dy: 313.5},
      {fill: SP_FILL, err: SP_ERR, text: 'SPARTA', dy: 340.5}
    ];
    marks.forEach(m => {
      const mx = a.left + 532, my = a.top + m.dy;
      ctx.strokeStyle = m.err; ctx.lineWidth = 1.8;
      ctx.beginPath(); ctx.moveTo(mx, my - 8); ctx.lineTo(mx, my + 8); ctx.stroke();
      ctx.fillStyle = m.fill; ctx.fillRect(mx - 3, my - 3, 6, 6);
      drawRich(ctx, [[m.text, 'n']], a.left + 563, my, 18, '#000', 'left');
    });
    ctx.restore();
  }
};

const fsedLabels = [
  {parts: [['30x, ', 'n']].concat(chi(' = 4.00')), color: C_30},
  {parts: [['10x, ', 'n']].concat(chi(' = 3.60')), color: C_10},
  {parts: [['3x, ', 'n']].concat(chi(' = 3.54')), color: '#000'},
  {parts: [['1x, ', 'n']].concat(chi(' = 3.77')), color: C_1},
  {parts: [['0.1x, ', 'n']].concat(chi(' = 4.83')), color: C_01}
];

const panelBText = {
  id: 'panelBText',
  afterDatasetsDraw(chart) {
    const {ctx, chartArea: a} = chart;
    fsedLabels.forEach((l, i) => drawRich(ctx, l.parts, a.left + 11, a.top + 15.5 + i * 21.2, 17.2, l.color, 'left'));
    drawRich(ctx, [['(b)', 'n']], a.right - 24, a.top + 25, 21, '#000', 'right');
  }
};

function yScale() {
  return {
    type: 'linear', min: Y_MIN, max: Y_MAX,
    afterFit: s => { s.width = 112; },
    afterBuildTicks: s => { s.ticks = yMajorTicks.map(v => ({value: v})); },
    grid: {display: false, drawTicks: false}, border: {display: false},
    ticks: {font: {family: FAM, size: 20}, color: '#000', padding: 14, callback: v => v.toFixed(1)}
  };
}

const common = {
  responsive: false, animation: false, devicePixelRatio: 1,
  plugins: {legend: {display: false}, tooltip: {enabled: false}}
};

new Chart(document.getElementById('panelA'), {
  data: {
    datasets: [
      obsSet(tswift, TS_FILL, TS_ERR, 30),
      obsSet(sparta, SP_FILL, SP_ERR, 29),
      lineSet(noCloudsHaze, C_NOCLOUD, 2.2, 20, [0.5, 4]),
      lineSet(withoutH2O, C_H2O, 2.2, 15),
      lineSet(withoutCH4, C_CH4, 2.2, 14),
      lineSet(withoutNH3, C_NH3, 2.2, 13),
      lineSet(withoutCO2, C_CO2, 2.2, 12),
      lineSet(withoutCS2, C_CS2, 2.2, 11),
      lineSet(rcpeGrid, C_RED, 2.4, 2),
      lineSet(semiFree, '#000', 2.4, 1)
    ]
  },
  options: Object.assign({}, common, {
    layout: {padding: {top: 52, right: 7, bottom: 431, left: 0}},
    scales: {
      x: {type: 'linear', min: X_MIN, max: X_MAX, display: false},
      y: yScale()
    },
    plugins: Object.assign({}, common.plugins, {frameTicks: {xTicks: false}})
  }),
  plugins: [errorBars, frameTicks, panelAText]
});

new Chart(document.getElementById('panelB'), {
  data: {
    datasets: [
      obsSet(tswift, TS_FILL, TS_ERR, 30),
      obsSet(sparta, SP_FILL, SP_ERR, 29),
      lineSet(fsed30, C_30, 2.4, 6),
      lineSet(fsed10, C_10, 2.4, 5),
      lineSet(fsed01, C_01, 2.4, 4),
      lineSet(fsed1, C_1, 2.4, 3),
      lineSet(fsed3, '#000', 2.6, 1)
    ]
  },
  options: Object.assign({}, common, {
    layout: {padding: {top: 412, right: 7, bottom: 0, left: 0}},
    scales: {
      x: {
        type: 'linear', min: X_MIN, max: X_MAX, position: 'bottom',
        afterFit: s => { s.height = 70; },
        afterBuildTicks: s => { s.ticks = xMajorTicks.map(v => ({value: v})); },
        grid: {display: false, drawTicks: false}, border: {display: false},
        ticks: {font: {family: FAM, size: 20}, color: '#000', padding: 12, maxRotation: 0, autoSkip: false,
                callback: v => String(v)},
        title: {display: true, text: 'Wavelength (µm)', font: {family: FAM, size: 23}, color: '#000',
                padding: {top: 0, bottom: 7}}
      },
      y: yScale()
    },
    plugins: Object.assign({}, common.plugins, {frameTicks: {xTicks: true}})
  }),
  plugins: [errorBars, frameTicks, panelBText]
});
</script>
</body>
</html>
